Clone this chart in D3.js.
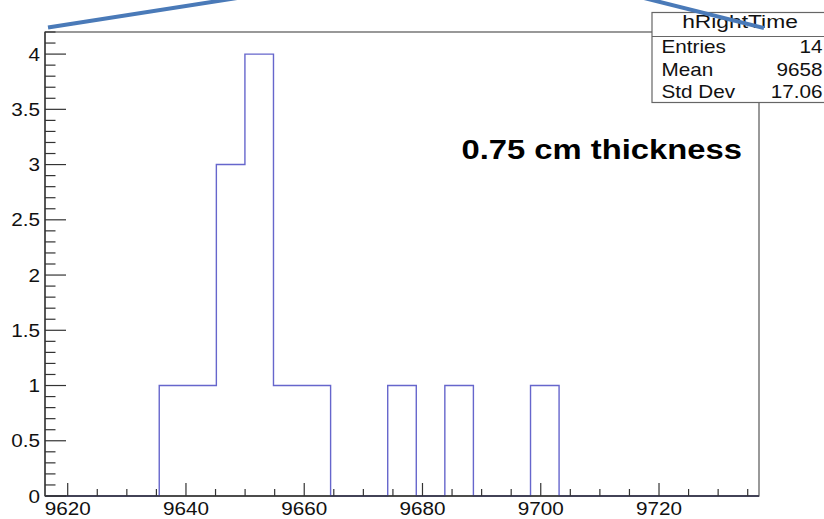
<!DOCTYPE html>
<html><head><meta charset="utf-8">
<script src="https://cdn.jsdelivr.net/npm/d3@7"></script>
<style>html,body{margin:0;padding:0;background:#fff;overflow:hidden}svg{display:block}</style>
</head><body>
<script>
// ---- data ----
const histName = "hRightTime";
const xDomain = [9616.16, 9736.91];           // histogram axis range
const counts = [0,0,0,0,1,1,3,4,1,1,0,0,1,0,1,0,0,1,0,0,0,0,0,0,0]; // 25 bins
const yDomain = [0, 4.2];
const xTickValues = [9620, 9640, 9660, 9680, 9700, 9720];
const yTickValues = [0, 0.5, 1, 1.5, 2, 2.5, 3, 3.5, 4];
const yTickLabels = ["0", "0.5", "1", "1.5", "2", "2.5", "3", "3.5", "4"];
const statsLabels = ["Entries", "Mean", "Std Dev"];
const statsValues = ["14", "9658", "17.06"];
const annotation = "0.75 cm thickness";

// ---- layout ----
const W = 824, H = 519;
const m = {left: 45, right: 759, top: 32, bottom: 496};
const FONT = "'Liberation Sans', Arial, Helvetica, sans-serif";
const SX = 1.15; // horizontal text stretch

const svg = d3.select("body").append("svg").attr("width", W).attr("height", H);

const x = d3.scaleLinear().domain(xDomain).range([m.left, m.right]);
const y = d3.scaleLinear().domain(yDomain).range([m.bottom, m.top]);

function stext(g, tx, ty, str, opts = {}) {
  return g.append("text")
    .attr("transform", `translate(${tx},${ty}) scale(${opts.sx || SX},1)`)
    .attr("text-anchor", opts.anchor || "start")
    .attr("font-family", FONT)
    .attr("font-size", opts.size || 18)
    .attr("font-weight", opts.weight || "normal")
    .attr("fill", opts.fill || "#111")
    .text(str);
}

// frame
svg.append("rect").attr("x", m.left).attr("y", m.top)
  .attr("width", m.right - m.left).attr("height", m.bottom - m.top)
  .attr("fill", "none").attr("stroke", "#555").attr("stroke-width", 1.2);

// histogram step outline
const nb = counts.length;
const bw = (xDomain[1] - xDomain[0]) / nb;
const pts = [];
pts.push([xDomain[0], 0]);
counts.forEach((c, i) => {
  pts.push([xDomain[0] + i * bw, c]);
  pts.push([xDomain[0] + (i + 1) * bw, c]);
});
pts.push([xDomain[1], 0]);
const line = d3.line().x(d => x(d[0])).y(d => y(d[1]));
svg.append("path").attr("d", line(pts))
  .attr("fill", "none").attr("stroke", "#6666cc").attr("stroke-width", 1.4);

// x axis ticks (drawn inward, upward)
const xMinor = d3.range(9620, xDomain[1], 5);
const gx = svg.append("g");
gx.selectAll("line.minor").data(xMinor).join("line")
  .attr("x1", d => x(d)).attr("x2", d => x(d))
  .attr("y1", m.bottom).attr("y2", d => m.bottom - (d % 20 === 0 ? 13 : 7))
  .attr("stroke", "#333").attr("stroke-width", 1.2);
xTickValues.forEach(v => stext(gx, x(v), 515, String(v), {anchor: "middle"}));
svg.append("line").attr("x1", m.left).attr("x2", m.right).attr("y1", m.bottom).attr("y2", m.bottom)
  .attr("stroke", "#333").attr("stroke-width", 1.3);

// y axis ticks (drawn inward, rightward)
const yMinor = d3.range(0, 42.5, 1).map(d => d / 10);
const gy = svg.append("g");
gy.selectAll("line").data(yMinor).join("line")
  .attr("x1", m.left).attr("x2", (d, i) => m.left + (i % 5 === 0 ? 21 : 10.5))
  .attr("y1", d => y(d)).attr("y2", d => y(d))
  .attr("stroke", "#333").attr("stroke-width", 1.2);
yTickValues.forEach((v, i) => stext(gy, 40, y(v) + 6.5, yTickLabels[i], {anchor: "end"}));
svg.append("line").attr("x1", m.left).attr("x2", m.left).attr("y1", m.top).attr("y2", m.bottom)
  .attr("stroke", "#333").attr("stroke-width", 1.3);

// annotation
stext(svg, 461.5, 158.5, annotation, {size: 28, weight: "bold", sx: 1.17, fill: "#000"});

// stats box
const sb = svg.append("g");
sb.append("rect").attr("x", 652).attr("y", 12.5).attr("width", 200).attr("height", 90)
  .attr("fill", "#fff").attr("stroke", "#666").attr("stroke-width", 1.2);
sb.append("line").attr("x1", 652).attr("x2", 852).attr("y1", 36.5).attr("y2", 36.5)
  .attr("stroke", "#666").attr("stroke-width", 1.2);
stext(sb, 740, 27.5, histName, {anchor: "middle", size: 19, sx: 1.2});
const rowY = [53.3, 75.8, 98.2];
statsLabels.forEach((l, i) => {
  stext(sb, 661.5, rowY[i], l, {size: 18, sx: 1.15});
  stext(sb, 822.5, rowY[i], statsValues[i], {anchor: "end", size: 18, sx: 1.15});
});

// decorative blue slide arrow lines over the top
svg.append("path").attr("d", "M48,27.5 L250,-4")
  .attr("stroke", "#4a7ab8").attr("stroke-width", 4).attr("fill", "none");
svg.append("path").attr("d", "M632,-5 L764,28")
  .attr("stroke", "#4a7ab8").attr("stroke-width", 4).attr("fill", "none");
</script>
</body></html>
